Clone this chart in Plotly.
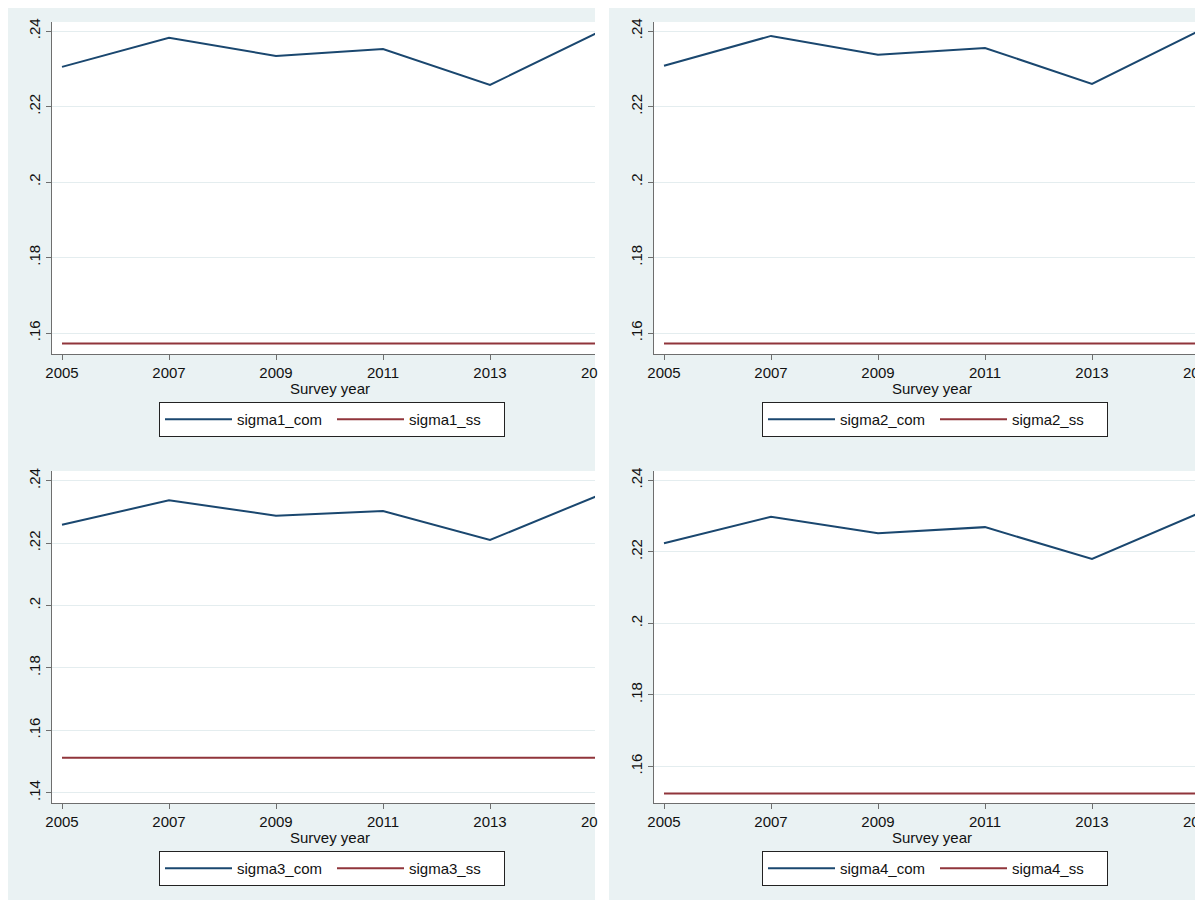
import plotly.graph_objects as go

# ---------------- data ----------------
years = [2005, 2007, 2009, 2011, 2013, 2015]
x_tick_vals = [2005, 2007, 2009, 2011, 2013, 2015]
x_tick_text = ["2005", "2007", "2009", "2011", "2013", "2015"]

sigma1_com = [0.2305, 0.2382, 0.2334, 0.2352, 0.2257, 0.2395]
sigma1_ss = [0.1572, 0.1572, 0.1572, 0.1572, 0.1572, 0.1572]
sigma2_com = [0.2308, 0.2387, 0.2337, 0.2355, 0.2260, 0.2400]
sigma2_ss = [0.1572, 0.1572, 0.1572, 0.1572, 0.1572, 0.1572]
sigma3_com = [0.2259, 0.2337, 0.2288, 0.2303, 0.2210, 0.2351]
sigma3_ss = [0.1512, 0.1512, 0.1512, 0.1512, 0.1512, 0.1512]
sigma4_com = [0.2224, 0.2298, 0.2252, 0.2269, 0.2180, 0.2308]
sigma4_ss = [0.1524, 0.1524, 0.1524, 0.1524, 0.1524, 0.1524]

y_ticks_a = [0.16, 0.18, 0.20, 0.22, 0.24]
y_text_a = [".16", ".18", ".2", ".22", ".24"]
y_ticks_b = [0.14, 0.16, 0.18, 0.20, 0.22, 0.24]
y_text_b = [".14", ".16", ".18", ".2", ".22", ".24"]

x_title = "Survey year"

# ---------------- style / geometry ----------------
PAGE_W, PAGE_H = 1203, 900
OFF = 8                      # page body margin of the viewer
W, H = PAGE_W - OFF, PAGE_H - OFF
FONT = "Arial, Liberation Sans, sans-serif"
BG = "#eaf2f3"
GRID = "#e4edef"
AXIS = "#6e6e6e"
BLUE = "#1a476f"
RED = "#90353b"
FS = 15


def fx(p):
    return max(0.0, min(1.0, (p - OFF) / W))


def fy(p):
    return max(0.0, min(1.0, 1 - (p - OFF) / H))


panels = [
    dict(series=("sigma1_com", "sigma1_ss"), com=sigma1_com, ss=sigma1_ss,
         left=52, right=595, top=22, bottom=354, x0=62, ppy=53.5,
         yref_px=31, ppu=75.5, yt=y_ticks_a, ytt=y_text_a,
         xlab_y=372, title_y=388, leg_top=402, leg_left=159),
    dict(series=("sigma2_com", "sigma2_ss"), com=sigma2_com, ss=sigma2_ss,
         left=654, right=1197, top=22, bottom=354, x0=664, ppy=53.5,
         yref_px=31, ppu=75.5, yt=y_ticks_a, ytt=y_text_a,
         xlab_y=372, title_y=388, leg_top=402, leg_left=762),
    dict(series=("sigma3_com", "sigma3_ss"), com=sigma3_com, ss=sigma3_ss,
         left=52, right=595, top=471, bottom=803, x0=62, ppy=53.5,
         yref_px=480.7, ppu=62.4, yt=y_ticks_b, ytt=y_text_b,
         xlab_y=821, title_y=837, leg_top=851, leg_left=159),
    dict(series=("sigma4_com", "sigma4_ss"), com=sigma4_com, ss=sigma4_ss,
         left=654, right=1197, top=471, bottom=803, x0=664, ppy=53.5,
         yref_px=480.3, ppu=71.5, yt=y_ticks_a, ytt=y_text_a,
         xlab_y=821, title_y=837, leg_top=851, leg_left=762),
]

fig = go.Figure()
layout = dict(
    width=W, height=H,
    margin=dict(l=0, r=0, t=0, b=0, pad=0, autoexpand=False),
    paper_bgcolor="white",
    plot_bgcolor="white",
    font=dict(family=FONT, size=FS, color="#111"),
    shapes=[],
    annotations=[],
)

# panel backgrounds (left and right columns)
for (x0, x1) in [(7, 595), (609, 1197)]:
    layout["shapes"].append(dict(
        type="rect", xref="paper", yref="paper", layer="below",
        x0=fx(x0), x1=fx(x1), y0=fy(900), y1=fy(5),
        fillcolor=BG, line=dict(width=0)))
# white plot regions
for p in panels:
    layout["shapes"].append(dict(
        type="rect", xref="paper", yref="paper", layer="below",
        x0=fx(p["left"]), x1=fx(p["right"]), y0=fy(p["bottom"]), y1=fy(p["top"]),
        fillcolor="white", line=dict(width=0)))

for i, p in enumerate(panels):
    k = "" if i == 0 else str(i + 1)
    xa, ya = "x" + k, "y" + k
    leg = "legend" + k

    xr0 = 2005 - (p["x0"] - p["left"]) / p["ppy"]
    xr1 = 2005 + (p["right"] - p["x0"]) / p["ppy"]
    yr1 = 0.24 + (p["yref_px"] - p["top"]) / p["ppu"] * 0.02
    yr0 = 0.24 - (p["bottom"] - p["yref_px"]) / p["ppu"] * 0.02

    fig.add_trace(go.Scatter(
        x=years, y=p["com"], mode="lines", name=p["series"][0],
        line=dict(color=BLUE, width=2), xaxis=xa, yaxis=ya, legend=leg,
        hoverinfo="skip"))
    fig.add_trace(go.Scatter(
        x=years, y=p["ss"], mode="lines", name=p["series"][1],
        line=dict(color=RED, width=2), xaxis=xa, yaxis=ya, legend=leg,
        hoverinfo="skip"))

    layout["xaxis" + k] = dict(
        domain=[fx(p["left"]), fx(p["right"])], range=[xr0, xr1],
        anchor=ya, tickmode="array", tickvals=x_tick_vals, ticktext=x_tick_text,
        ticks="outside", ticklen=5, tickcolor=AXIS, tickwidth=1,
        showline=True, linecolor=AXIS, linewidth=1.3, showgrid=False,
        zeroline=False, automargin=False,
        tickfont=dict(size=FS, family=FONT, color="#111"))
    layout["yaxis" + k] = dict(
        domain=[fy(p["bottom"]), fy(p["top"])], range=[yr0, yr1],
        anchor=xa, tickmode="array", tickvals=p["yt"], ticktext=p["ytt"],
        ticks="outside", ticklen=5, tickcolor=AXIS, tickwidth=1,
        showline=True, linecolor=AXIS, linewidth=1.3, showgrid=True,
        gridcolor=GRID, gridwidth=1.3, zeroline=False, tickangle=-90,
        automargin=False,
        tickfont=dict(size=FS, family=FONT, color="#111"))

    # axis title (centred on the full, uncropped plot region)
    full_right = p["x0"] + 10 * p["ppy"] + 10
    layout["annotations"].append(dict(
        text=x_title, xref="paper", yref="paper",
        x=fx((p["left"] + full_right) / 2), y=fy(p["title_y"]),
        xanchor="center", yanchor="middle", showarrow=False,
        font=dict(size=FS, family=FONT, color="#111")))
    # cropped "2015" label at the cut edge
    layout["annotations"].append(dict(
        text="20", xref="paper", yref="paper",
        x=fx(p["right"] - 16), y=fy(p["xlab_y"]),
        xanchor="left", yanchor="middle", showarrow=False,
        font=dict(size=FS, family=FONT, color="#111")))

    layout[leg] = dict(
        orientation="h", x=fx(p["leg_left"]), y=fy(p["leg_top"]),
        xanchor="left", yanchor="top", xref="paper", yref="paper",
        bgcolor="white", bordercolor="#222", borderwidth=1,
        font=dict(size=FS, family=FONT, color="#111"),
        entrywidth=90, entrywidthmode="pixels", itemwidth=67,
        traceorder="normal")

fig.update_layout(**layout)
fig.write_html("out.html")
